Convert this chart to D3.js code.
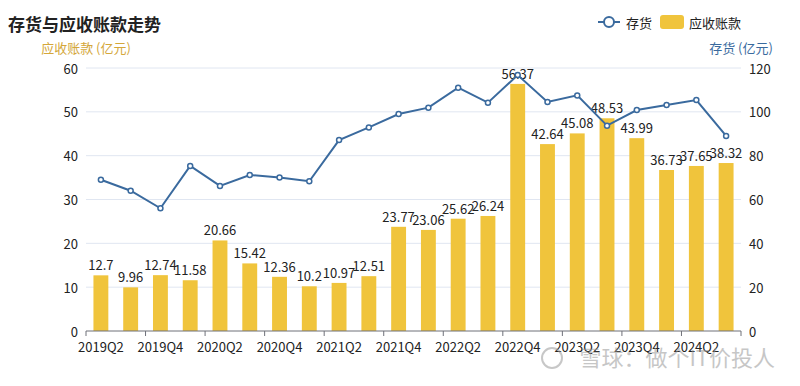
<!DOCTYPE html>
<html>
<head>
<meta charset="utf-8">
<script src="https://cdn.jsdelivr.net/npm/d3@7"></script>
<style>
  body { margin: 0; background: #fff; }
  svg { font-family: "Microsoft YaHei", "Noto Sans CJK SC", sans-serif; }
</style>
</head>
<body>
<svg id="chart" width="800" height="386"></svg>
<script>
var quarters = ['2019Q2', '2019Q3', '2019Q4', '2020Q1', '2020Q2', '2020Q3', '2020Q4', '2021Q1',
    '2021Q2', '2021Q3', '2021Q4', '2022Q1', '2022Q2', '2022Q3', '2022Q4', '2023Q1',
    '2023Q2', '2023Q3', '2023Q4', '2024Q1', '2024Q2', '2024Q3'];
var receivables = [12.7, 9.96, 12.74, 11.58, 20.66, 15.42, 12.36, 10.2, 10.97, 12.51, 23.77, 23.06,
    25.62, 26.24, 56.37, 42.64, 45.08, 48.53, 43.99, 36.73, 37.65, 38.32];
var inventory = [69, 64, 56, 75.3, 66.2, 71.2, 70, 68.3, 87.1, 92.9, 99, 101.9,
    111, 104.2, 116.8, 104.5, 107.5, 93.7, 100.8, 103.1, 105.4, 89];
var leftTicks = [0, 10, 20, 30, 40, 50, 60];
var rightTicks = [0, 20, 40, 60, 80, 100, 120];

var barColor = '#F0C43C';
var lineColor = '#3A6A9E';

var svg = d3.select('#chart');
var plotLeft = 86, plotRight = 741, plotTop = 68, plotBottom = 331;

var x = d3.scaleBand().domain(quarters).range([plotLeft, plotRight]).paddingInner(0.5).paddingOuter(0.25);
var xb = d3.scaleBand().domain(quarters).range([plotLeft, plotRight]);
var yL = d3.scaleLinear().domain([0, 60]).range([plotBottom, plotTop]);
var yR = d3.scaleLinear().domain([0, 120]).range([plotBottom, plotTop]);

// gridlines
svg.append('g').selectAll('line').data(leftTicks.slice(1)).enter().append('line')
    .attr('x1', plotLeft).attr('x2', plotRight)
    .attr('y1', function (d) { return yL(d); }).attr('y2', function (d) { return yL(d); })
    .attr('stroke', '#E0E6F1').attr('stroke-width', 1);

// left axis labels
svg.append('g').selectAll('text').data(leftTicks).enter().append('text')
    .attr('x', plotLeft - 8).attr('y', function (d) { return yL(d); })
    .attr('text-anchor', 'end').attr('dominant-baseline', 'central')
    .attr('font-size', 13).attr('fill', '#222')
    .text(function (d) { return d; });

// right axis labels
svg.append('g').selectAll('text').data(rightTicks).enter().append('text')
    .attr('x', plotRight + 8).attr('y', function (d) { return yR(d); })
    .attr('text-anchor', 'start').attr('dominant-baseline', 'central')
    .attr('font-size', 13).attr('fill', '#222')
    .text(function (d) { return d; });

// bars
svg.append('g').selectAll('rect').data(receivables).enter().append('rect')
    .attr('x', function (d, i) { return x(quarters[i]); })
    .attr('width', x.bandwidth())
    .attr('y', function (d) { return yL(d); })
    .attr('height', function (d) { return plotBottom - yL(d); })
    .attr('fill', barColor);

// bar labels
svg.append('g').selectAll('text').data(receivables).enter().append('text')
    .attr('x', function (d, i) { return xb(quarters[i]) + xb.bandwidth() / 2; })
    .attr('y', function (d) { return yL(d) - 5; })
    .attr('text-anchor', 'middle')
    .attr('font-size', 13).attr('fill', '#222')
    .text(function (d) { return d; });

// x axis
var xAxis = svg.append('g');
xAxis.append('line').attr('x1', plotLeft).attr('x2', plotRight).attr('y1', plotBottom).attr('y2', plotBottom)
    .attr('stroke', '#6E7079').attr('stroke-width', 1);
var tickQs = quarters.filter(function (q, i) { return i % 2 === 0; });
xAxis.selectAll('.tick').data(tickQs.concat(['end'])).enter().append('line')
    .attr('x1', function (d) { return d === 'end' ? plotRight : xb(d); })
    .attr('x2', function (d) { return d === 'end' ? plotRight : xb(d); })
    .attr('y1', plotBottom).attr('y2', plotBottom + 5)
    .attr('stroke', '#6E7079');
xAxis.selectAll('text').data(tickQs).enter().append('text')
    .attr('x', function (d) { return xb(d) + xb.bandwidth() / 2; })
    .attr('y', plotBottom + 15)
    .attr('text-anchor', 'middle').attr('dominant-baseline', 'central')
    .attr('font-size', 13).attr('fill', '#222')
    .text(function (d) { return d; });

// line
var line = d3.line()
    .x(function (d, i) { return xb(quarters[i]) + xb.bandwidth() / 2; })
    .y(function (d) { return yR(d); });
svg.append('path').datum(inventory)
    .attr('d', line).attr('fill', 'none')
    .attr('stroke', lineColor).attr('stroke-width', 2);
svg.append('g').selectAll('circle').data(inventory).enter().append('circle')
    .attr('cx', function (d, i) { return xb(quarters[i]) + xb.bandwidth() / 2; })
    .attr('cy', function (d) { return yR(d); })
    .attr('r', 2.5).attr('fill', '#fff')
    .attr('stroke', lineColor).attr('stroke-width', 1.5);

// title
svg.append('text').attr('x', 8).attr('y', 31)
    .attr('font-size', 17).attr('font-weight', 'bold').attr('fill', '#222')
    .text('存货与应收账款走势');

// axis names
svg.append('text').attr('x', 86).attr('y', 53).attr('text-anchor', 'middle')
    .attr('font-size', 13).attr('fill', '#D4A73A')
    .text('应收账款 (亿元)');
svg.append('text').attr('x', 741).attr('y', 53).attr('text-anchor', 'middle')
    .attr('font-size', 13).attr('fill', lineColor)
    .text('存货 (亿元)');

// legend
var legend = svg.append('g');
legend.append('line').attr('x1', 598).attr('x2', 620).attr('y1', 22).attr('y2', 22)
    .attr('stroke', lineColor).attr('stroke-width', 2);
legend.append('circle').attr('cx', 609).attr('cy', 22).attr('r', 5)
    .attr('fill', '#fff').attr('stroke', lineColor).attr('stroke-width', 2);
legend.append('text').attr('x', 626).attr('y', 22).attr('dominant-baseline', 'central')
    .attr('font-size', 13).attr('fill', '#222').text('存货');
legend.append('rect').attr('x', 660).attr('y', 15).attr('width', 24).attr('height', 14)
    .attr('rx', 3).attr('fill', barColor);
legend.append('text').attr('x', 689).attr('y', 22).attr('dominant-baseline', 'central')
    .attr('font-size', 13).attr('fill', '#222').text('应收账款');

// watermark
svg.append('text').attr('x', 775).attr('y', 366).attr('text-anchor', 'end')
    .attr('font-size', 22).attr('fill', '#999').attr('opacity', 0.55)
    .text('雪球：做个IT价投人');
svg.append('circle').attr('cx', 552).attr('cy', 358).attr('r', 10)
    .attr('fill', 'none').attr('stroke', '#999').attr('stroke-width', 2).attr('opacity', 0.55);
</script>
</body>
</html>
